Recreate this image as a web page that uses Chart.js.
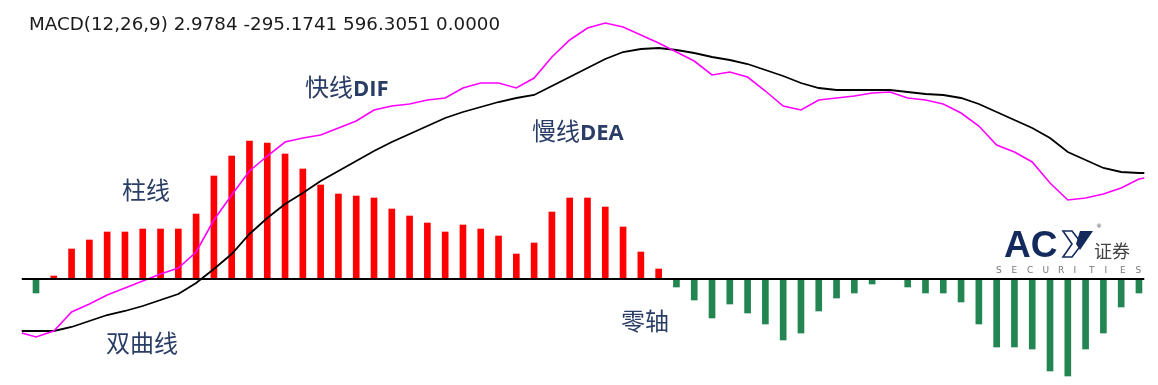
<!DOCTYPE html>
<html>
  <head>
    <title>MACD</title>
    <script src="https://cdn.jsdelivr.net/npm/chart.js"></script>
    <style>
      html, body { margin: 0; padding: 0; background: #fff; }
      #wrap { width: 1158px; height: 385px; position: relative; }
    </style>
  </head>
  <body>
    <div id="wrap"><canvas id="macdChart"></canvas></div>
    <script>
      // histogram (one bar per period)
      const barIndex = Array.from({ length: 63 }, (_, i) => i);
      const histValues = [
        -14, 3, 30, 39, 47, 47, 50, 50, 50, 65,
        103, 123, 138, 136, 125, 110, 94, 85, 83, 81,
        70, 63, 56, 47, 54, 50, 43, 25, 36, 67,
        81, 81, 72, 52, 27, 10, -8, -21, -39, -25,
        -34, -45, -61, -54, -32, -19, -14, -5, 0, -8,
        -14, -14, -23, -45, -68, -68, -70, -92, -97, -70,
        -54, -28, -14
      ];

      // line positions (periods), lines start a bit before the first bar
      const lineIndex = [-0.8].concat(barIndex, [62.3]);
      const difValues = [
        -54,
        -58, -52, -33, -25, -16, -9, -2, 5, 11, 27,
        59, 84, 108, 123, 137, 141, 144, 151, 158, 169,
        173, 175, 179, 181, 191, 196, 196, 191, 201, 222,
        239, 251, 256, 252, 244, 236, 227, 218, 204, 207,
        202, 188, 173, 169, 179, 181, 183, 186, 187, 181,
        179, 175, 166, 153, 134, 127, 117, 96, 79, 81,
        85, 91, 100,
        101
      ];
      const deaValues = [
        -52,
        -52, -52, -48, -42, -36, -32, -27, -21, -15, -4,
        10, 25, 45, 61, 75, 86, 98, 108, 118, 128,
        137, 145, 153, 161, 167, 172, 177, 181, 184, 193,
        202, 211, 220, 227, 230, 231, 229, 226, 222, 219,
        215, 209, 203, 196, 191, 189, 189, 189, 189, 187,
        185, 184, 181, 175, 167, 159, 151, 141, 127, 119,
        111, 107, 106,
        106
      ];

      const titleText = "MACD(12,26,9) 2.9784 -295.1741 596.3051 0.0000";

      const pts = (xs, ys) => xs.map((x, i) => ({ x: x, y: ys[i] }));

      // text labels + logo
      const labelsPlugin = {
        id: "labels",
        afterDraw(chart) {
          const ctx = chart.ctx;
          ctx.save();
          ctx.textBaseline = "alphabetic";

          ctx.fillStyle = "#1b1b1b";
          ctx.font = "18.3px 'DejaVu Sans'";
          ctx.fillText(titleText, 29, 30);

          const navy = "#2a3d66";
          const label = (cn, en, x, y) => {
            ctx.fillStyle = navy;
            ctx.font = "24px 'Noto Sans CJK SC'";
            ctx.fillText(cn, x, y);
            if (en) {
              const w = ctx.measureText(cn).width;
              ctx.font = "bold 22px 'Open Sans'";
              ctx.fillText(en, x + w, y);
            }
          };
          label("快线", "DIF", 305, 96);
          label("慢线", "DEA", 532, 140);
          label("柱线", "", 122, 199);
          label("双曲线", "", 106, 352);
          label("零轴", "", 621, 330);

          // logo
          ctx.fillStyle = "#142a5c";
          ctx.font = "bold 37px 'Liberation Sans'";
          ctx.fillText("AC", 1004, 257);
          ctx.strokeStyle = "#142a5c";
          ctx.lineWidth = 1.6;
          ctx.beginPath();
          ctx.moveTo(1063, 231);
          ctx.lineTo(1072, 231);
          ctx.lineTo(1082, 244);
          ctx.lineTo(1072, 257);
          ctx.lineTo(1063, 257);
          ctx.lineTo(1072, 244);
          ctx.closePath();
          ctx.stroke();
          ctx.beginPath();
          ctx.moveTo(1080, 231);
          ctx.lineTo(1093, 231);
          ctx.lineTo(1080, 250);
          ctx.lineTo(1076, 244);
          ctx.closePath();
          ctx.fill();
          ctx.fillStyle = "#555";
          ctx.font = "6px 'DejaVu Sans'";
          ctx.fillText("®", 1096, 228);
          ctx.font = "18px 'Noto Sans CJK SC'";
          ctx.fillStyle = "#444";
          ctx.fillText("证券", 1094, 258);
          ctx.font = "9px 'DejaVu Sans'";
          ctx.fillStyle = "#777";
          const sec = "SECURITIES".split("");
          sec.forEach((c, i) => ctx.fillText(c, 996 + i * 15.5, 273));
          ctx.restore();
        },
      };

      const ctx = document.getElementById("macdChart").getContext("2d");
      new Chart(ctx, {
        type: "bar",
        data: {
          datasets: [
            {
              type: "line",
              label: "零轴",
              data: pts([-0.8, 62.3], [0, 0]),
              borderColor: "#000000",
              borderWidth: 2,
              pointRadius: 0,
              order: 0,
            },
            {
              type: "line",
              label: "DIF",
              data: pts(lineIndex, difValues),
              borderColor: "#ff00ff",
              borderWidth: 1.6,
              pointRadius: 0,
              tension: 0,
              order: 1,
            },
            {
              type: "line",
              label: "DEA",
              data: pts(lineIndex, deaValues),
              borderColor: "#000000",
              borderWidth: 1.8,
              pointRadius: 0,
              tension: 0,
              order: 2,
            },
            {
              type: "bar",
              label: "MACD",
              data: pts(barIndex, histValues),
              backgroundColor: histValues.map((v) => (v >= 0 ? "#ff0000" : "#228552")),
              barThickness: 6,
              order: 3,
            },
          ],
        },
        options: {
          responsive: true,
          maintainAspectRatio: false,
          animation: false,
          layout: { padding: 0 },
          plugins: { legend: { display: false }, tooltip: { enabled: false } },
          scales: {
            x: { type: "linear", display: false, min: -2.024, max: 63.07, offset: false },
            y: { display: false, min: -106, max: 279 },
          },
        },
        plugins: [labelsPlugin],
      });
    </script>
  </body>
</html>
